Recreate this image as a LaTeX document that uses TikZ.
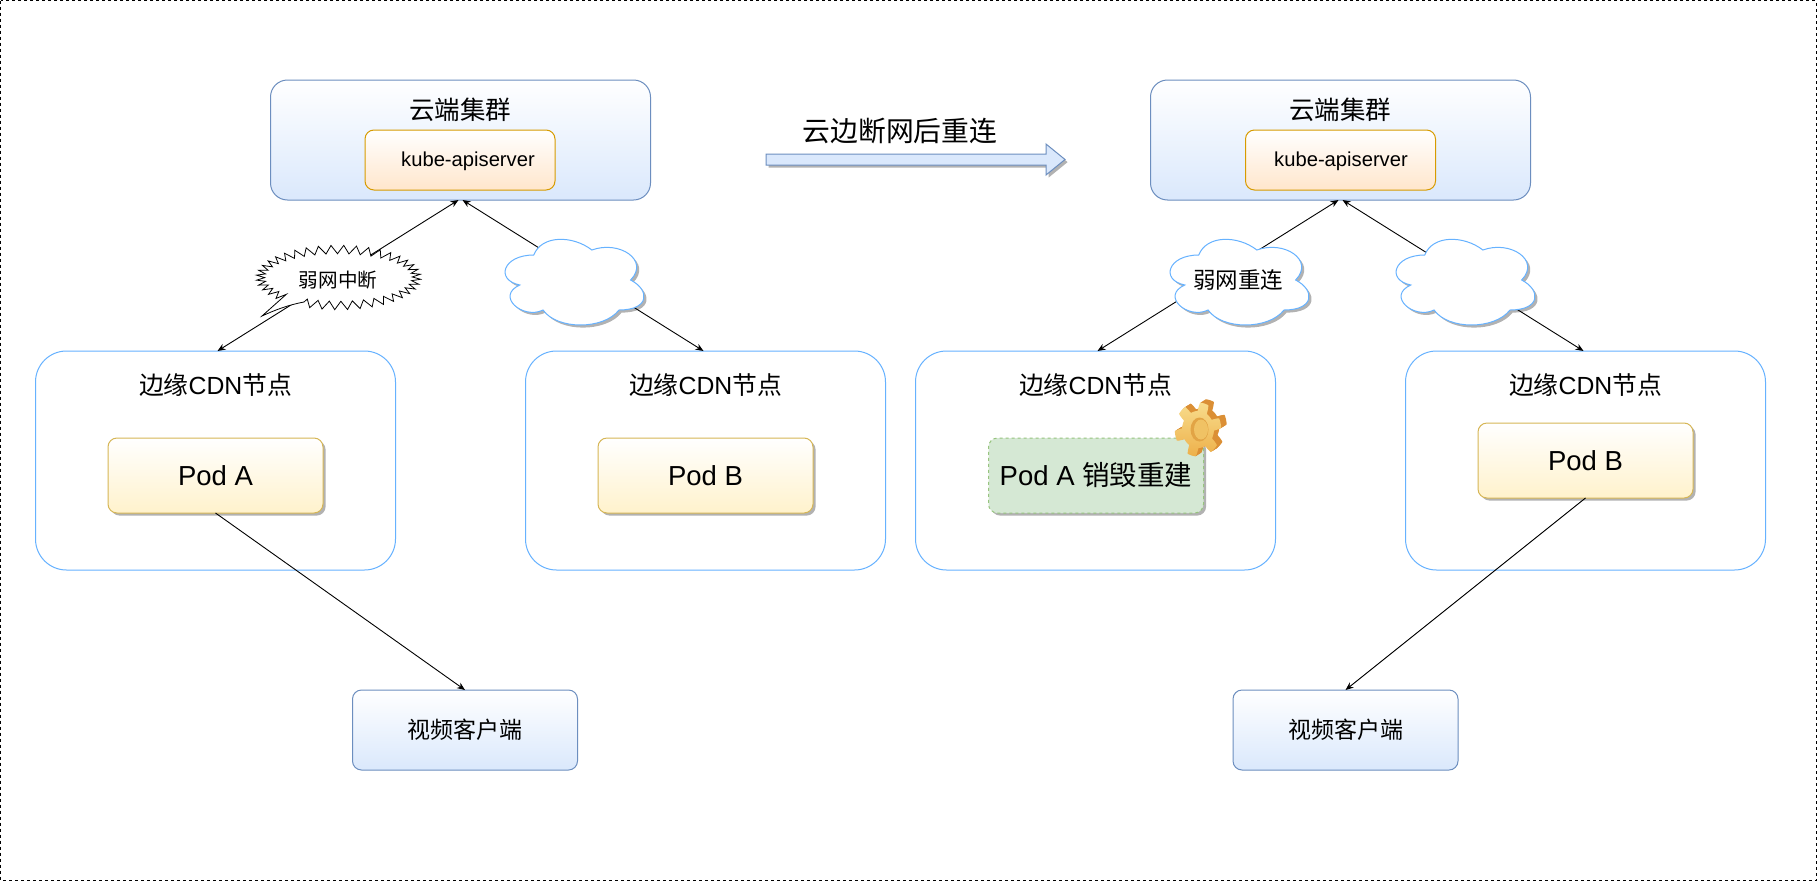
\documentclass[tikz,border=0pt]{standalone}
\usepackage{fontspec}
\setmainfont{Liberation Sans}
\newfontfamily\cjk{Noto Sans CJK SC}
\usetikzlibrary{arrows.meta,shadows,shapes.misc}
\definecolor{blueS}{HTML}{6C8EBF}
\definecolor{blueF}{HTML}{DAE8FC}
\definecolor{orangeS}{HTML}{D79B00}
\definecolor{orangeF}{HTML}{FFE6CC}
\definecolor{yellowS}{HTML}{D6B656}
\definecolor{yellowF}{HTML}{FFF2CC}
\definecolor{greenS}{HTML}{97C47E}
\definecolor{greenF}{HTML}{D5E8D4}
\definecolor{skyS}{HTML}{66B2FF}
\definecolor{gearTop}{HTML}{F8DC8C}
\definecolor{gearBot}{HTML}{EDB04A}
\definecolor{gearSide}{HTML}{DB8F35}
\definecolor{gearHole}{HTML}{E2A445}
\definecolor{gearCore}{HTML}{F0C264}
\newcommand\pxfont[1]{\fontsize{#1}{#1}\selectfont}
\tikzset{
  softshadow/.style={drop shadow={shadow xshift=2.6pt,shadow yshift=-2.6pt,opacity=.3,fill=black}},
  box/.style={rectangle,inner sep=0pt,outer sep=0pt,line width=1pt,align=center},
  clusterbox/.style={box,draw=blueS,top color=white,bottom color=blueF,rounded corners=17pt,minimum width=380pt,minimum height=120pt},
  apibox/.style={box,draw=orangeS,top color=white,bottom color=orangeF,rounded corners=9pt,minimum width=190pt,minimum height=60pt},
  nodebox/.style={box,draw=skyS,fill=white,rounded corners=31pt,minimum width=360pt,minimum height=219pt},
  podbox/.style={box,draw=yellowS,top color=white,bottom color=yellowF,rounded corners=9pt,minimum width=215pt,minimum height=75pt,softshadow,font=\pxfont{27.5}},
  rebuildbox/.style={box,draw=greenS,fill=greenF,dashed,rounded corners=9pt,minimum width=215pt,minimum height=75pt,softshadow},
  clientbox/.style={box,draw=blueS,top color=white,bottom color=blueF,rounded corners=9pt,minimum width=225pt,minimum height=80pt,font=\cjk\pxfont{23}},
  titletext/.style={inner sep=0pt,font=\cjk\pxfont{25.5}},
  nodetext/.style={inner sep=0pt,font=\pxfont{24.8}},
  apitext/.style={inner sep=0pt,font=\pxfont{20.2}},
  link/.style={line width=.9pt,black,{Stealth[length=8pt,width=6.5pt]}-{Stealth[length=8pt,width=6.5pt]}},
  oneway/.style={line width=.9pt,black,-{Stealth[length=8pt,width=6.5pt]}},
  cloudline/.style={draw=skyS,fill=white,line width=1pt,softshadow},
}
% draw.io cloud outline, in a unit square at position (#1,#2), size #3 x #4
\newcommand\cloudat[4]{%
  \path[cloudline,shift={(#1,#2)},x=#3pt,y=-#4pt]
   (.25,.25) .. controls (.05,.25) and (0,.5) .. (.16,.55)
   .. controls (0,.66) and (.18,.9) .. (.31,.8)
   .. controls (.4,1) and (.7,1) .. (.8,.8)
   .. controls (1,.8) and (1,.6) .. (.875,.5)
   .. controls (1,.3) and (.8,.1) .. (.625,.2)
   .. controls (.5,.05) and (.3,.05) .. (.25,.25) -- cycle;%
}
\begin{document}
\begin{tikzpicture}[x=1pt,y=-1pt,
  declare function={gearr(\t)=18.5+8.5*max(0,min(1,1.5*cos(6*\t)+.35));
    zang(\t)=115-340*(\t/76); zoff(\t)=4.2*(2*mod(round(\t),2)-1);}]
\useasboundingbox (0,0) rectangle (1817,881);
\fill[white] (0,0) rectangle (1817,881);
\draw[black,line width=1pt,dash pattern=on 3pt off 3pt] (.7,.7) rectangle (1816.3,880.3);

% clusters
\node[clusterbox] (c1) at (460.5,140) {};
\node[titletext] (c1t) at (460,110) {云端集群};
\node[apibox] (a1) at (460,160) {};
\node[apitext] (a1t) at (468,161.5) {kube-apiserver};
\node[clusterbox] (c2) at (1340.5,140) {};
\node[titletext] (c2t) at (1340,110) {云端集群};
\node[apibox] (a2) at (1340.5,160) {};
\node[apitext] (a2t) at (1341,161.5) {kube-apiserver};

% edge nodes
\node[nodebox] (e1) at (215.5,460.5) {};
\node[nodebox] (e2) at (705.5,460.5) {};
\node[nodebox] (e3) at (1095.5,460.5) {};
\node[nodebox] (e4) at (1585.5,460.5) {};
\foreach \n/\x in {1/215.5,2/705.5,3/1095.5,4/1585.5}
  \node[nodetext] (t\n) at (\x,385) {{\cjk 边缘}CDN{\cjk 节点}};

% clients
\node[clientbox] (k1) at (465,730) {视频客户端};
\node[clientbox] (k2) at (1345.5,730) {视频客户端};

% connectors
\draw[link] ([xshift=-2pt]c1.south) -- ([xshift=2pt]e1.north);
\draw[link] ([xshift=2pt]c1.south) -- ([xshift=-2pt]e2.north);
\draw[link] ([xshift=-2pt]c2.south) -- ([xshift=2pt]e3.north);
\draw[link] ([xshift=2pt]c2.south) -- ([xshift=-2pt]e4.north);

% pods
\node[podbox] (p1) at (215.5,475.5) {Pod A};
\node[podbox] (p2) at (705.5,475.5) {Pod B};
\node[rebuildbox] (p3) at (1096,475.5) {\pxfont{27.5}Pod A {\cjk 销毁重建}};
\node[podbox] (p4) at (1585.5,460.5) {Pod B};
\draw[oneway] (p1.south) -- (k1.north);
\draw[oneway] (p4.south) -- (k2.north);

% clouds
\cloudat{495}{230}{155}{100}
\cloudat{1160}{230}{155}{100}
\cloudat{1386}{230}{155}{100}
\node[inner sep=0pt,font=\cjk\pxfont{22.5}] (w2) at (1238,280) {弱网重连};

% weak-network burst callout
\path[draw=black,fill=white,line width=.8pt,line join=miter]
  plot[samples at={0,1,...,76}] ({338.5+(78+zoff(\x))*cos(zang(\x))},{277.5+(28+zoff(\x))*sin(zang(\x))})
  -- (262,316) .. controls (275,310) and (288,305) .. (304,302) -- cycle;
\node[inner sep=0pt,font=\cjk\pxfont{19.6}] (w1) at (338,280) {弱网中断};

% gear
\begin{scope}[shift={(1198,429.5)},xscale=.86,rotate=14]
  \foreach \s in {7,6,5,4,3,2,1}
    \fill[gearSide,shift={(\s,-\s*.25)}] plot[domain=0:360,samples=241] ({gearr(\x)*cos(\x)},{gearr(\x)*sin(\x)}) -- cycle;
  \shade[top color=gearTop,bottom color=gearBot]
    plot[domain=0:360,samples=241] ({gearr(\x)*cos(\x)},{gearr(\x)*sin(\x)}) -- cycle;
\end{scope}
\fill[gearHole] (1199.5,429.5) ellipse [x radius=9pt,y radius=12pt];
\fill[gearCore] (1201,429.5) ellipse [x radius=7pt,y radius=10pt];

% transition arrow
\path[draw=blueS,fill=blueF,line width=1pt,softshadow]
  (766,154) -- (1046,154) -- (1046,144) -- (1065,159.5) -- (1046,175) -- (1046,165) -- (766,165) -- cycle;
\node[inner sep=0pt,font=\cjk\pxfont{27.8}] (title) at (900,131) {云边断网后重连};
\end{tikzpicture}
\end{document}
